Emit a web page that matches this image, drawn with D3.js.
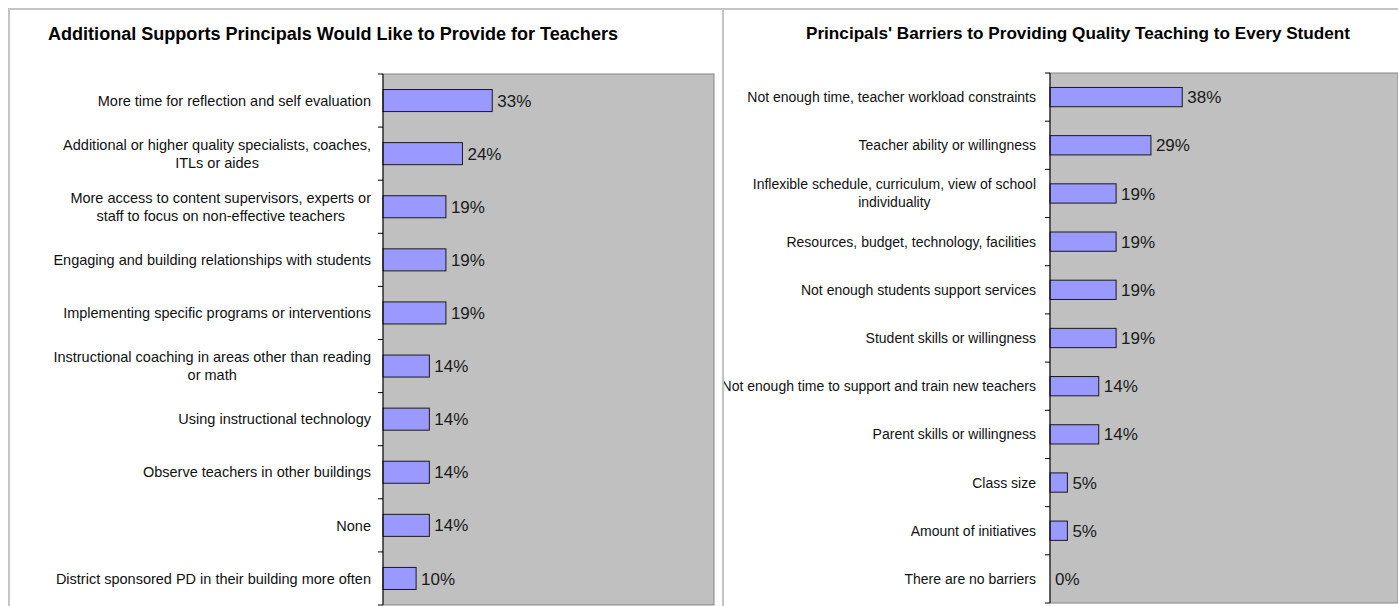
<!DOCTYPE html>
<html>
<head>
<meta charset="utf-8">
<script src="https://cdn.jsdelivr.net/npm/d3@7"></script>
<style>
  html, body { margin: 0; padding: 0; background: #fff; }
  svg { display: block; font-family: "Liberation Sans", Arial, sans-serif; }
</style>
</head>
<body>
<svg id="chart" width="1398" height="606"></svg>
<script>
// Survey results: share of principals giving each answer (percent)
const supportCategories = [
  "More time for reflection and self evaluation",
  "Additional or higher quality specialists, coaches,\nITLs or aides",
  "More access to content supervisors, experts or\nstaff to focus on non-effective teachers",
  "Engaging and building relationships with students",
  "Implementing specific programs or interventions",
  "Instructional coaching in areas other than reading\nor math",
  "Using instructional technology",
  "Observe teachers in other buildings",
  "None",
  "District sponsored PD in their building more often"
];
const supportValues = [33, 24, 19, 19, 19, 14, 14, 14, 14, 10];

const barrierCategories = [
  "Not enough time, teacher workload constraints",
  "Teacher ability or willingness",
  "Inflexible schedule, curriculum, view of school\nindividuality",
  "Resources, budget, technology, facilities",
  "Not enough students support services",
  "Student skills or willingness",
  "Not enough time to support and train new teachers",
  "Parent skills or willingness",
  "Class size",
  "Amount of initiatives",
  "There are no barriers"
];
const barrierValues = [38, 29, 19, 19, 19, 19, 14, 14, 5, 5, 0];

const valueDomain = [0, 100];

const svg = d3.select("#chart");
const W = 1398, H = 606;

// panel frames
svg.append("rect").attr("x", 9).attr("y", 9).attr("width", 714).attr("height", H + 10)
  .attr("fill", "#fff").attr("stroke", "#c4c4c4").attr("stroke-width", 2);
svg.append("rect").attr("x", 723).attr("y", 9).attr("width", W).attr("height", H + 10)
  .attr("fill", "#fff").attr("stroke", "#c4c4c4").attr("stroke-width", 2);

svg.append("defs").append("clipPath").attr("id", "rightClip")
  .append("rect").attr("x", 724).attr("y", 10).attr("width", W).attr("height", H);

function drawPanel(opts) {
  const g = svg.append("g");
  if (opts.clip) g.attr("clip-path", "url(#" + opts.clip + ")");

  const x = d3.scaleLinear().domain(valueDomain).range([opts.x0, opts.x1]);
  const y = d3.scaleBand().domain(opts.categories).range([opts.y0, opts.y1])
    .paddingInner(opts.pad).paddingOuter(opts.pad / 2);

  // title
  g.append("text")
    .attr("x", opts.titleX).attr("y", opts.titleY)
    .attr("font-weight", "bold").attr("font-size", opts.titleSize)
    .attr("textLength", opts.titleLen).attr("lengthAdjust", "spacingAndGlyphs")
    .attr("fill", "#000")
    .text(opts.title);

  // plot area
  g.append("rect")
    .attr("x", opts.x0).attr("y", opts.y0)
    .attr("width", opts.x1 - opts.x0).attr("height", opts.y1 - opts.y0)
    .attr("fill", "#c0c0c0").attr("stroke", "#868686").attr("stroke-width", 1);

  // bars
  g.selectAll("rect.bar").data(opts.values).enter().append("rect")
    .attr("class", "bar")
    .attr("x", x(0))
    .attr("y", (d, i) => y(opts.categories[i]))
    .attr("width", d => x(d) - x(0))
    .attr("height", y.bandwidth())
    .attr("fill", "#9999ff").attr("stroke", "#1a1a1a").attr("stroke-width", 1)
    .attr("display", d => d > 0 ? null : "none");

  // value labels
  g.selectAll("text.val").data(opts.values).enter().append("text")
    .attr("class", "val")
    .attr("x", d => x(d) + 5)
    .attr("y", (d, i) => y(opts.categories[i]) + y.bandwidth() / 2)
    .attr("dy", "0.36em")
    .attr("font-size", 17).attr("fill", "#1a1a1a")
    .text(d => d + "%");

  // category axis: line with ticks at band boundaries
  const step = y.step();
  const ax = g.append("g");
  ax.append("line").attr("x1", x(0)).attr("x2", x(0)).attr("y1", opts.y0).attr("y2", opts.y1)
    .attr("stroke", "#000").attr("stroke-width", 1);
  ax.selectAll("line.tick").data(d3.range(opts.categories.length + 1)).enter().append("line")
    .attr("class", "tick")
    .attr("x1", x(0) - 5).attr("x2", x(0))
    .attr("y1", i => opts.y0 + i * step).attr("y2", i => opts.y0 + i * step)
    .attr("stroke", "#000").attr("stroke-width", 1);

  // category labels, wrapped lines centred on each other
  const labelRight = x(0) - opts.labelGap;
  opts.categories.forEach(cat => {
    const lines = cat.split("\n");
    const cy = y(cat) + y.bandwidth() / 2;
    const t = g.append("text")
      .attr("font-size", opts.labelSize).attr("fill", "#111")
      .attr("text-anchor", "middle");
    const spans = lines.map((ln, k) => t.append("tspan")
      .attr("y", cy + (k - (lines.length - 1) / 2) * opts.lineH)
      .attr("dy", "0.36em")
      .text(ln));
    const maxW = d3.max(spans, s => s.node().getComputedTextLength());
    spans.forEach(s => s.attr("x", labelRight - maxW / 2));
  });
}

drawPanel({
  title: "Additional Supports Principals Would Like to Provide for Teachers",
  titleX: 48, titleY: 40, titleSize: 17.5, titleLen: 570,
  categories: supportCategories, values: supportValues,
  x0: 383, x1: 714, y0: 74, y1: 605, pad: 0.585,
  labelGap: 12, labelSize: 14.5, lineH: 18
});

drawPanel({
  title: "Principals' Barriers to Providing Quality Teaching to Every Student",
  titleX: 806, titleY: 39, titleSize: 16.5, titleLen: 544,
  categories: barrierCategories, values: barrierValues,
  x0: 1050, x1: 1398, y0: 73, y1: 603, pad: 0.6,
  labelGap: 14, labelSize: 14, lineH: 18, clip: "rightClip"
});
</script>
</body>
</html>
